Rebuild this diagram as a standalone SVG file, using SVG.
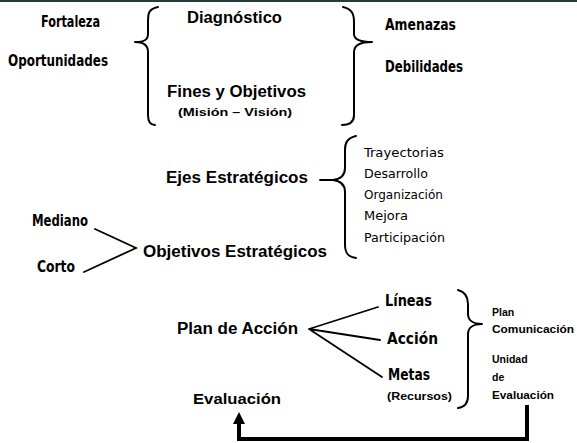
<svg xmlns="http://www.w3.org/2000/svg" width="577" height="443" viewBox="0 0 577 443">
<style>
.h{font-family:"Liberation Sans",Arial,sans-serif;font-weight:bold;fill:#000}
.c{font-family:"DejaVu Sans Condensed","DejaVu Sans",sans-serif;font-weight:bold;fill:#000;font-stretch:condensed}
.l{font-family:"DejaVu Sans Condensed","DejaVu Sans",sans-serif;fill:#000;font-stretch:condensed}
.s{fill:none;stroke:#000;stroke-width:2;stroke-linecap:round;stroke-linejoin:round}
.t{fill:none;stroke:#000;stroke-width:1.8;stroke-linecap:round}
</style>
<rect x="0" y="0" width="577" height="443" fill="#fff"/>
<rect x="0" y="0" width="577" height="2" fill="#243c3c"/>
<g id="swot">
<text class="c" x="41" y="27" font-size="15" textLength="59" lengthAdjust="spacingAndGlyphs">Fortaleza</text>
<text class="c" x="8" y="66" font-size="15" textLength="100" lengthAdjust="spacingAndGlyphs">Oportunidades</text>
<text class="c" x="385" y="30" font-size="15" textLength="71" lengthAdjust="spacingAndGlyphs">Amenazas</text>
<text class="c" x="385" y="72" font-size="15" textLength="78" lengthAdjust="spacingAndGlyphs">Debilidades</text>
</g>
<g id="diagnostico">
<text class="h" x="187" y="23" font-size="16" textLength="95" lengthAdjust="spacingAndGlyphs">Diagnóstico</text>
</g>
<g id="fines">
<text class="h" x="167" y="97" font-size="16" textLength="139" lengthAdjust="spacingAndGlyphs">Fines y Objetivos</text>
<text class="h" x="178" y="116" font-size="11.5" textLength="114" lengthAdjust="spacingAndGlyphs">(Misión – Visión)</text>
</g>
<g id="ejes">
<text class="h" x="166" y="183" font-size="16" textLength="142" lengthAdjust="spacingAndGlyphs">Ejes Estratégicos</text>
</g>
<g id="ejes-items">
<text class="l" x="364" y="157" font-size="12.5" textLength="80" lengthAdjust="spacingAndGlyphs">Trayectorias</text>
<text class="l" x="364" y="178" font-size="12.5" textLength="64" lengthAdjust="spacingAndGlyphs">Desarrollo</text>
<text class="l" x="364" y="199" font-size="12.5" textLength="79" lengthAdjust="spacingAndGlyphs">Organización</text>
<text class="l" x="364" y="220" font-size="12.5" textLength="44" lengthAdjust="spacingAndGlyphs">Mejora</text>
<text class="l" x="364" y="242" font-size="12.5" textLength="81" lengthAdjust="spacingAndGlyphs">Participación</text>
</g>
<g id="plazos">
<text class="c" x="32" y="226" font-size="15" textLength="56" lengthAdjust="spacingAndGlyphs">Mediano</text>
<text class="c" x="37" y="272" font-size="15" textLength="38" lengthAdjust="spacingAndGlyphs">Corto</text>
</g>
<g id="objetivos">
<text class="h" x="143" y="257" font-size="16" textLength="184" lengthAdjust="spacingAndGlyphs">Objetivos Estratégicos</text>
</g>
<g id="plan">
<text class="h" x="177" y="334" font-size="16" textLength="121" lengthAdjust="spacingAndGlyphs">Plan de Acción</text>
</g>
<g id="plan-items">
<text class="c" x="385" y="306" font-size="15" textLength="47" lengthAdjust="spacingAndGlyphs">Líneas</text>
<text class="c" x="387" y="344" font-size="15" textLength="51" lengthAdjust="spacingAndGlyphs">Acción</text>
<text class="c" x="388" y="380" font-size="15" textLength="42" lengthAdjust="spacingAndGlyphs">Metas</text>
<text class="h" x="387" y="400" font-size="10.5" textLength="65" lengthAdjust="spacingAndGlyphs">(Recursos)</text>
</g>
<g id="comunicacion">
<text class="h" x="492" y="316" font-size="10.5">Plan</text>
<text class="h" x="492" y="333" font-size="10.5" textLength="82" lengthAdjust="spacingAndGlyphs">Comunicación</text>
</g>
<g id="unidad">
<text class="h" x="492" y="363" font-size="10.5">Unidad</text>
<text class="h" x="492" y="381" font-size="10.5">de</text>
<text class="h" x="492" y="399" font-size="10.5" textLength="62" lengthAdjust="spacingAndGlyphs">Evaluación</text>
</g>
<g id="evaluacion">
<text class="h" x="193" y="404" font-size="15" textLength="88" lengthAdjust="spacingAndGlyphs">Evaluación</text>
</g>
<g id="connectors">
<path class="s" d="M158,7 C148,9 148,14 148,22 L148,34 C148,40 144,42 135,42 C144,42 148,45 148,52 L148,115 C148,122 150,125 155,125"/>
<path class="s" d="M343,7 C352,9 354,14 354,22 L354,34 C354,40 360,42 372,42 C360,42 354,45 354,52 L354,115 C354,122 350,125 342,125"/>
<path class="t" d="M320,180 L333,180"/>
<path class="s" d="M356,136 C347,138 345,143 345,150 L345,168 C345,175 341,179 333,180 C341,181 345,185 345,192 L345,245 C345,253 348,257 356,258"/>
<path class="t" d="M95,229 L136,248 L84,272"/>
<path class="t" d="M378,307 L309,329 L380,340 M309,329 L382,377"/>
<path class="s" d="M458,290 C466,292 468,297 468,304 L468,314 C468,320 473,324 482,324 C473,324 468,328 468,334 L468,396 C468,403 465,407 458,408"/>
<path d="M527,405 L527,439 L239,439 L239,422" fill="none" stroke="#000" stroke-width="4"/>
<path d="M239,412 L245,424 L233,424 Z" fill="#000"/>
</g>
</svg>
